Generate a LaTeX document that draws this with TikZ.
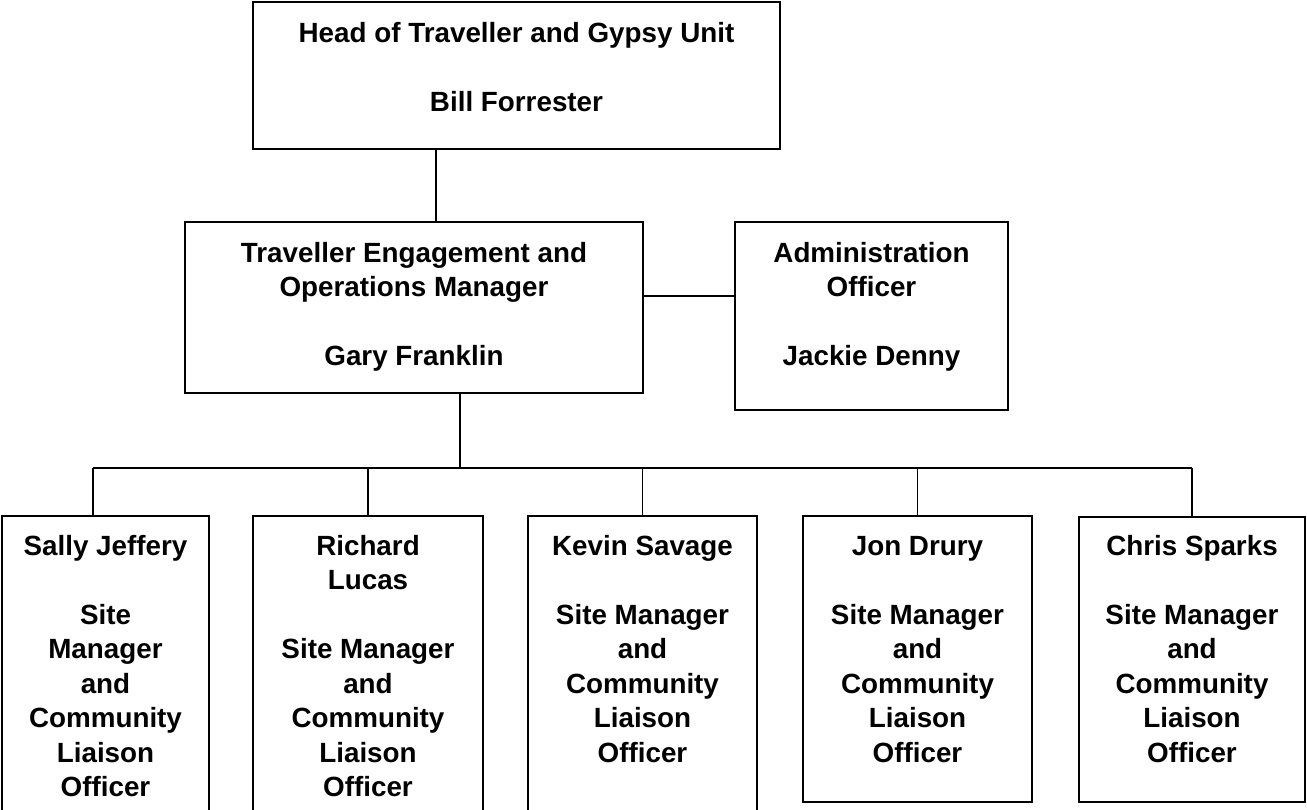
\documentclass[tikz,border=0pt]{standalone}
\usepackage{fontspec}
\setmainfont{Liberation Sans}
\begin{document}
\begin{tikzpicture}[x=1pt,y=-1pt,
  box/.style={draw=black, line width=1.8pt, fill=white, inner sep=0pt},
  txt/.style={anchor=north, inner sep=0pt, align=center,
              font=\fontsize{27.8}{34.5}\selectfont\bfseries},
  link/.style={draw=black, line width=1.5pt}]
% page frame
\clip (0,0) rectangle (1307,810);
\fill[white] (0,0) rectangle (1307,810);

% boxes
\node[box, minimum width=527pt, minimum height=147pt] (head)    at (516.5,75.5) {};
\node[box, minimum width=458pt, minimum height=171pt] (gary)    at (414,307.5) {};
\node[box, minimum width=273pt, minimum height=188pt] (admin)   at (871.5,316) {};
\node[box, minimum width=207pt, minimum height=314pt] (sally)   at (105.5,673) {};
\node[box, minimum width=230pt, minimum height=314pt] (richard) at (368,673) {};
\node[box, minimum width=229pt, minimum height=314pt] (kevin)   at (642.5,673) {};
\node[box, minimum width=229pt, minimum height=286pt] (jon)     at (917.5,659) {};
\node[box, minimum width=226pt, minimum height=285pt] (chris)   at (1192,659.5) {};

% texts
\node[txt] (headtxt) at (516.5,17.85)
  {\strut Head of Traveller and Gypsy Unit\\\strut\\\strut Bill Forrester};
\node[txt] (garytxt) at (414,237.85)
  {\strut Traveller Engagement and\\\strut Operations Manager\\\strut\\\strut Gary Franklin};
\node[txt] (admintxt) at (871.5,237.85)
  {\strut Administration\\\strut Officer\\\strut\\\strut Jackie Denny};
\node[txt] (sallytxt) at (105.5,530.85)
  {\strut Sally Jeffery\\\strut\\\strut Site\\\strut Manager\\\strut and\\\strut Community\\\strut Liaison\\\strut Officer};
\node[txt] (richardtxt) at (368,530.85)
  {\strut Richard\\\strut Lucas\\\strut\\\strut Site Manager\\\strut and\\\strut Community\\\strut Liaison\\\strut Officer};
\node[txt] (kevintxt) at (642.5,530.85)
  {\strut Kevin Savage\\\strut\\\strut Site Manager\\\strut and\\\strut Community\\\strut Liaison\\\strut Officer};
\node[txt] (jontxt) at (917.5,530.85)
  {\strut Jon Drury\\\strut\\\strut Site Manager\\\strut and\\\strut Community\\\strut Liaison\\\strut Officer};
\node[txt] (christxt) at (1192,530.85)
  {\strut Chris Sparks\\\strut\\\strut Site Manager\\\strut and\\\strut Community\\\strut Liaison\\\strut Officer};

% connectors
\coordinate (hc) at (436,0);
\coordinate (ga) at (0,296);
\coordinate (bus) at (460,468);
\coordinate (sd) at (93,468);
\coordinate (cd) at (1192,468);
\draw[link] (head.south -| hc) -- (gary.north -| hc);
\draw[link] (gary.east |- ga) -- (admin.west |- ga);
\draw[link] (gary.south -| bus) -- (bus);
\draw[link] (sd) -- (cd);
\draw[link] (sd) -- (sally.north -| sd);
\draw[link] (richard.north |- bus) -- (richard.north);
\draw[link] (kevin.north |- bus) -- (kevin.north);
\draw[link] (jon.north |- bus) -- (jon.north);
\draw[link] (chris.north |- bus) -- (chris.north);
\end{tikzpicture}
\end{document}
